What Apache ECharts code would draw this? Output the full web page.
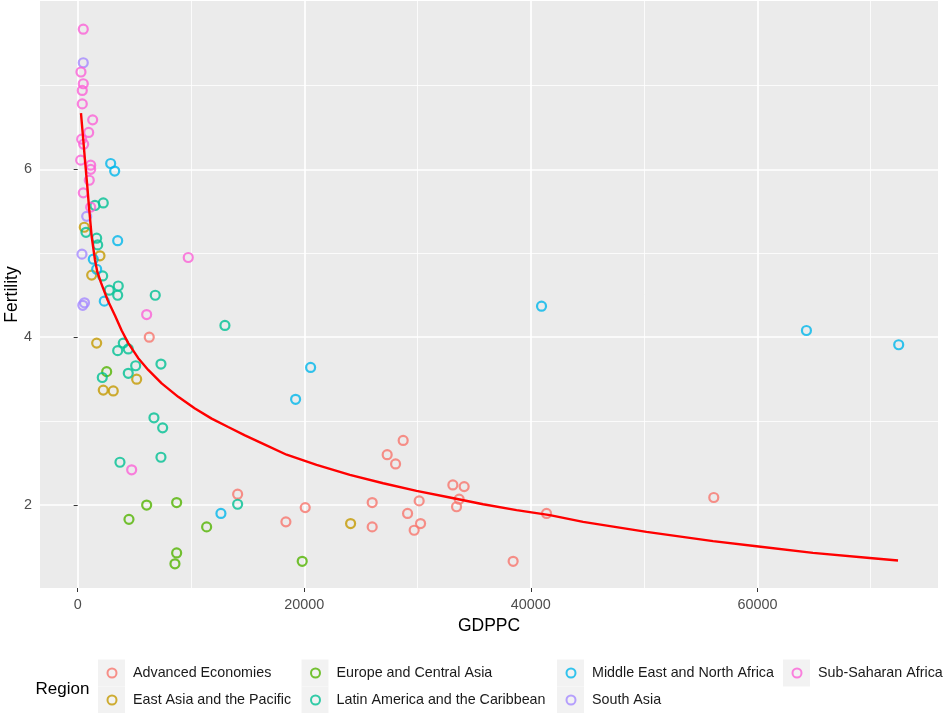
<!DOCTYPE html>
<html>
<head>
<meta charset="utf-8">
<script src="https://cdn.jsdelivr.net/npm/echarts@6/dist/echarts.min.js"></script>
<style>html,body{margin:0;padding:0;background:#fff}#c{width:946px;height:713px}</style>
</head>
<body>
<div id="c"></div>
<script>
// ---- data ----
const regions = ['Advanced Economies','East Asia and the Pacific','Europe and Central Asia','Latin America and the Caribbean','Middle East and North Africa','South Asia','Sub-Saharan Africa'];
const regionColors = ['#F8766D','#C49A00','#53B400','#00C094','#00B6EB','#A58AFF','#FB61D7'];

const advancedEconomies = [[6318,4.00],[14118,2.13],[28730,2.77],[27318,2.60],[28059,2.49],[33115,2.24],[34112,2.22],[33671,2.07],[33441,1.98],[30142,2.05],[25995,2.03],[20083,1.97],[18380,1.80],[25995,1.74],[29118,1.90],[30265,1.78],[29700,1.70],[41383,1.90],[38436,1.33],[56146,2.09]];
const eastAsiaPacific = [[582,5.31],[1968,4.97],[1235,4.74],[1676,3.93],[5206,3.50],[2259,3.37],[3141,3.36],[24089,1.78]];
const europeCentralAsia = [[2559,3.59],[6088,2.00],[8735,2.03],[4527,1.83],[11382,1.74],[8735,1.43],[8585,1.30],[19818,1.33]];
const latinAmericaCaribbean = [[2259,5.60],[1526,5.57],[732,5.25],[1676,5.18],[1765,5.10],[2206,4.73],[3582,4.61],[2788,4.56],[3530,4.50],[6847,4.50],[12997,4.14],[4024,3.93],[3530,3.84],[4465,3.86],[7350,3.68],[5118,3.66],[2171,3.52],[4465,3.57],[6732,3.04],[7500,2.92],[7350,2.57],[3732,2.51],[14118,2.01]];
const middleEastNorthAfrica = [[2912,6.07],[3265,5.98],[3530,5.15],[1376,4.93],[1676,4.81],[2347,4.43],[40942,4.37],[20559,3.64],[19235,3.26],[12644,1.90],[64324,4.08],[72468,3.91]];
const southAsia = [[494,7.27],[794,5.44],[379,4.99],[450,4.38],[600,4.41]];
const subSaharanAfrica = [[494,7.67],[291,7.16],[494,7.02],[406,6.94],[406,6.78],[1323,6.59],[970,6.44],[353,6.36],[529,6.30],[265,6.11],[1147,6.05],[1147,6.00],[1024,5.87],[494,5.72],[1147,5.55],[9759,4.95],[6088,4.27],[4765,2.42]];

const fitCurve = [[291,6.67],[494,6.35],[644,6.11],[847,5.80],[1000,5.55],[1235,5.20],[1527,4.92],[1729,4.78],[2056,4.65],[2650,4.44],[3291,4.26],[3882,4.08],[4465,3.93],[5347,3.75],[6229,3.61],[7412,3.45],[8876,3.29],[10350,3.15],[11824,3.03],[13288,2.93],[14762,2.83],[16377,2.73],[18442,2.60],[21088,2.48],[24026,2.36],[26965,2.26],[29912,2.17],[32850,2.09],[35790,2.01],[38737,1.94],[41677,1.88],[44613,1.80],[50207,1.68],[56080,1.57],[59913,1.51],[64900,1.43],[69910,1.37],[72409,1.34]];

const xMajorTicks = [0,20000,40000,60000];
const xMinorTicks = [10000,30000,50000,70000];
const yMajorTicks = [2,4,6];
const yMinorTicks = [3,5,7];
const xRange = [-3326, 75937];
const yRange = [1.012, 8.006];

const seriesData = [advancedEconomies, eastAsiaPacific, europeCentralAsia, latinAmericaCaribbean, middleEastNorthAfrica, southAsia, subSaharanAfrica];

// ---- chart ----
const FONT = '"Liberation Sans", Arial, sans-serif';
const chart = echarts.init(document.getElementById('c'), null, {renderer:'canvas'});

const legendCols = [[regions[0],regions[1]],[regions[2],regions[3]],[regions[4],regions[5]],[regions[6]]];
const keyCenters = [111.5, 315, 570.5, 796.5];
const legendTop = 661, lineH = 24, rowGap = 3, keyTop = 659.5, keySize = 27;

const keyRects = [];
legendCols.forEach((col, i) => col.forEach((n, j) => {
  keyRects.push({type:'rect', silent:true, z:0, shape:{x: keyCenters[i] - keySize/2, y: keyTop + keySize*j, width: keySize, height: keySize}, style:{fill:'#F2F2F2'}});
}));

const option = {
  animation: false,
  backgroundColor: '#ffffff',
  grid: {left:40, top:1, right:8, bottom:125, show:true, backgroundColor:'#EBEBEB', borderWidth:0, containLabel:false, outerBoundsMode:'none'},
  xAxis: [
    {type:'value', min:xRange[0], max:xRange[1], position:'bottom',
     axisLine:{show:false},
     axisTick:{show:true, length:4, lineStyle:{color:'#333333', width:1}, customValues:xMajorTicks},
     axisLabel:{customValues:xMajorTicks, formatter: v => String(v), color:'#4D4D4D', fontSize:14.4, margin:10, fontFamily:FONT},
     splitLine:{show:true, lineStyle:{color:'#ffffff', width:1.7}},
     name:'GDPPC', nameLocation:'middle', nameGap:29, nameTextStyle:{color:'#000', fontSize:17.5, fontFamily:FONT}},
    {type:'value', min:xRange[0], max:xRange[1], position:'bottom',
     axisLine:{show:false},
     axisTick:{show:false, customValues:xMinorTicks},
     axisLabel:{show:false, customValues:xMinorTicks},
     splitLine:{show:true, lineStyle:{color:'#ffffff', width:0.8}}}
  ],
  yAxis: [
    {type:'value', min:yRange[0], max:yRange[1], position:'left',
     axisLine:{show:false},
     axisTick:{show:true, length:4, lineStyle:{color:'#333333', width:1}, customValues:yMajorTicks},
     axisLabel:{customValues:yMajorTicks, formatter: v => String(v), color:'#4D4D4D', fontSize:14.4, margin:8, fontFamily:FONT},
     splitLine:{show:true, lineStyle:{color:'#ffffff', width:1.7}}},
    {type:'value', min:yRange[0], max:yRange[1], position:'left',
     axisLine:{show:false},
     axisTick:{show:false, customValues:yMinorTicks},
     axisLabel:{show:false, customValues:yMinorTicks},
     splitLine:{show:true, lineStyle:{color:'#ffffff', width:0.8}}}
  ],
  legend: legendCols.map((d, i) => ({
    data: d, orient:'vertical', left: keyCenters[i] - 5, top: legendTop,
    itemWidth:32, itemHeight:9, itemGap:rowGap, padding:0, icon:'circle', selectedMode:false,
    itemStyle:{borderWidth:2},
    textStyle:{fontSize:14.3, color:'#1A1A1A', lineHeight:lineH, fontFamily:FONT}
  })),
  graphic: keyRects.concat([
    {type:'text', silent:true, left:35.5, top:681, style:{text:'Region', fontSize:17, fill:'#000', font:'17px "Liberation Sans", Arial, sans-serif'}},
    {type:'text', silent:true, x:12, y:294.5, rotation:Math.PI/2, style:{text:'Fertility', fill:'#000', font:'17.5px "Liberation Sans", Arial, sans-serif', align:'center', verticalAlign:'middle'}}
  ]),
  series: seriesData.map((d, i) => ({
    type:'scatter', name: regions[i], data: d, xAxisIndex:0, yAxisIndex:0,
    symbol:'circle', symbolSize:9,
    itemStyle:{color:'rgba(0,0,0,0)', borderColor: regionColors[i], borderWidth:2.2},
    emphasis:{disabled:true}, silent:true, z:2
  })).concat([{
    type:'line', name:'fit', data: fitCurve, xAxisIndex:0, yAxisIndex:0,
    symbol:'none', showSymbol:false, lineStyle:{color:'#FF0000', width:2.4},
    silent:true, z:3
  }])
};
chart.setOption(option);
</script>
</body>
</html>
